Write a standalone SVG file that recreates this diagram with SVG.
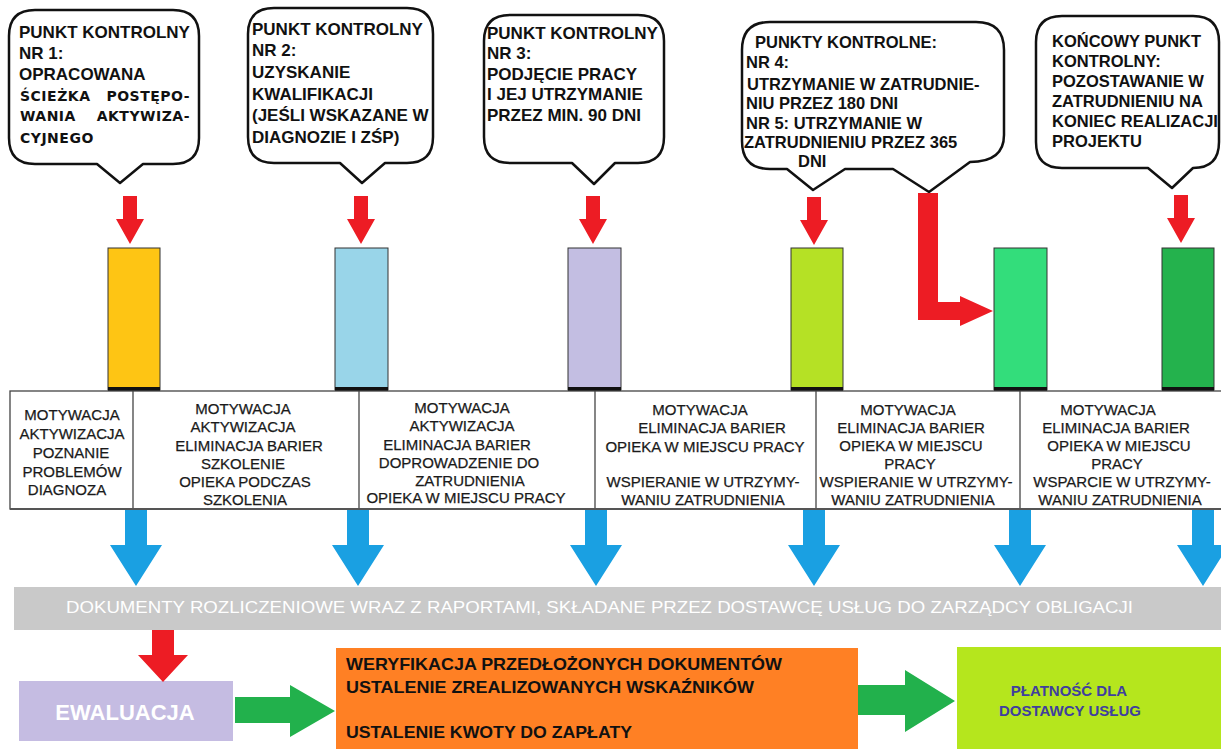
<svg xmlns="http://www.w3.org/2000/svg" width="1221" height="749" viewBox="0 0 1221 749">
<style>
.bub{fill:#fff;stroke:#111;stroke-width:2.5;stroke-linejoin:round}
.bt{font-family:"Liberation Sans",Arial,sans-serif;font-weight:bold;font-size:16.5px;fill:#111}
.bt2{font-size:17px}
.bw{font-family:"DejaVu Sans",Verdana,sans-serif;font-weight:bold;font-size:14px;letter-spacing:0.5px;fill:#111}
.red{fill:#ED1C24}
.blue{fill:#1AA0E2}
.grn{fill:#22B14C}
.bar{stroke:#333;stroke-width:1}
.ct{font-family:"Liberation Sans",Arial,sans-serif;font-size:15px;fill:#1a1a1a;text-anchor:middle;stroke:#1a1a1a;stroke-width:0.25}
.cell{fill:#fff;stroke:#444;stroke-width:1.3}
</style>
<rect width="1221" height="749" fill="#fff"/>

<g id="bubble1">
<path class="bub" d="M35,10 H173 Q199,10 199,36 V138 Q199,164 173,164 H143 L120,183 L97,164 H35 Q9,164 9,138 V36 Q9,10 35,10 Z"/>
<text class="bt bt2" x="19" y="38">PUNKT KONTROLNY</text>
<text class="bt bt2" x="19" y="59">NR 1:</text>
<text class="bt bt2" x="19" y="80">OPRACOWANA</text>
<text class="bw" x="20" y="101">ŚCIEŻKA</text>
<text class="bw" x="190" y="101" text-anchor="end">POSTĘPO-</text>
<text class="bw" x="20" y="121">WANIA</text>
<text class="bw" x="190" y="121" text-anchor="end">AKTYWIZA-</text>
<text class="bw" x="20" y="143">CYJNEGO</text>
</g>

<g id="bubble2">
<path class="bub" d="M274,8 H407 Q433,8 433,34 V137 Q433,163 407,163 H385 L362,183 L340,163 H274 Q248,163 248,137 V34 Q248,8 274,8 Z"/>
<text class="bt bt2" x="252" y="35">PUNKT KONTROLNY</text>
<text class="bt bt2" x="252" y="56">NR 2:</text>
<text class="bt bt2" x="252" y="78">UZYSKANIE</text>
<text class="bt bt2" x="252" y="100">KWALIFIKACJI</text>
<text class="bt bt2" x="252" y="121">(JEŚLI WSKAZANE W</text>
<text class="bt bt2" x="252" y="143">DIAGNOZIE I ZŚP)</text>
</g>

<g id="bubble3">
<path class="bub" d="M510,15 H638 Q664,15 664,41 V137 Q664,163 638,163 H615 L594,184 L572,163 H510 Q484,163 484,137 V41 Q484,15 510,15 Z"/>
<text class="bt bt2" x="487" y="39">PUNKT KONTROLNY</text>
<text class="bt bt2" x="487" y="59">NR 3:</text>
<text class="bt bt2" x="487" y="80">PODJĘCIE PRACY</text>
<text class="bt bt2" x="487" y="100">I JEJ UTRZYMANIE</text>
<text class="bt bt2" x="487" y="121">PRZEZ MIN. 90 DNI</text>
</g>

<g id="bubble4">
<path class="bub" d="M770,22 H976 Q1004,22 1004,50 V135 Q1004,162 970,162 L929,192 L893,169 H845 L813,190 L787,169 H770 Q742,169 742,141 V50 Q742,22 770,22 Z"/>
<text class="bt" x="755" y="48">PUNKTY KONTROLNE:</text>
<text class="bt" x="746" y="68">NR 4:</text>
<text class="bt" x="747" y="90">UTRZYMANIE W ZATRUDNIE-</text>
<text class="bt" x="746" y="109">NIU PRZEZ 180 DNI</text>
<text class="bt" x="746" y="129">NR 5: UTRZYMANIE W</text>
<text class="bt" x="744" y="148">ZATRUDNIENIU PRZEZ 365</text>
<text class="bt" x="798" y="167">DNI</text>
</g>

<g id="bubble5">
<path class="bub" d="M1062,16 H1193 Q1219,16 1219,42 V142 Q1219,168 1193,168 L1172,188 L1148,168 H1062 Q1036,168 1036,142 V42 Q1036,16 1062,16 Z"/>
<text class="bt" x="1052" y="47">KOŃCOWY PUNKT</text>
<text class="bt" x="1052" y="67">KONTROLNY:</text>
<text class="bt" x="1052" y="87">POZOSTAWANIE W</text>
<text class="bt" x="1052" y="107">ZATRUDNIENIU NA</text>
<text class="bt" x="1052" y="127">KONIEC REALIZACJI</text>
<text class="bt" x="1052" y="147">PROJEKTU</text>
</g>

<g id="bars">
<rect class="bar" x="108" y="248" width="52" height="142" fill="#FEC514"/>
<rect class="bar" x="335" y="248" width="53" height="142" fill="#99D5E9"/>
<rect class="bar" x="568" y="248" width="53" height="142" fill="#C3BEE2"/>
<rect class="bar" x="791" y="248" width="52" height="142" fill="#B5E125"/>
<rect class="bar" x="994" y="248" width="53" height="142" fill="#33DD7B"/>
<rect class="bar" x="1162" y="248" width="52" height="142" fill="#24B24D"/>
<g fill="#111">
<rect x="108" y="387" width="52" height="4"/>
<rect x="335" y="387" width="53" height="4"/>
<rect x="568" y="387" width="53" height="4"/>
<rect x="791" y="387" width="52" height="4"/>
<rect x="994" y="387" width="53" height="4"/>
<rect x="1162" y="387" width="52" height="4"/>
</g>
</g>

<g id="table">
<rect class="cell" x="10" y="391" width="1213" height="118"/>
<g stroke="#444" stroke-width="1.3">
<line x1="133" y1="391" x2="133" y2="509"/>
<line x1="359" y1="391" x2="359" y2="509"/>
<line x1="595" y1="391" x2="595" y2="509"/>
<line x1="816" y1="391" x2="816" y2="509"/>
<line x1="1020" y1="391" x2="1020" y2="509"/>
</g>
<line x1="10" y1="509" x2="1221" y2="509" stroke="#555" stroke-width="2"/>
</g>

<g id="cell1">
<text class="ct" x="72" y="420">MOTYWACJA</text>
<text class="ct" x="72" y="439">AKTYWIZACJA</text>
<text class="ct" x="71" y="458">POZNANIE</text>
<text class="ct" x="72" y="477">PROBLEMÓW</text>
<text class="ct" x="67" y="495">DIAGNOZA</text>
</g>
<g id="cell2">
<text class="ct" x="243" y="414">MOTYWACJA</text>
<text class="ct" x="243" y="432">AKTYWIZACJA</text>
<text class="ct" x="249" y="451">ELIMINACJA BARIER</text>
<text class="ct" x="243" y="469">SZKOLENIE</text>
<text class="ct" x="245" y="487">OPIEKA PODCZAS</text>
<text class="ct" x="245" y="505">SZKOLENIA</text>
</g>
<g id="cell3">
<text class="ct" x="462" y="413">MOTYWACJA</text>
<text class="ct" x="462" y="431">AKTYWIZACJA</text>
<text class="ct" x="457" y="450">ELIMINACJA BARIER</text>
<text class="ct" x="459" y="468">DOPROWADZENIE DO</text>
<text class="ct" x="470" y="486">ZATRUDNIENIA</text>
<text class="ct" x="466" y="503">OPIEKA W MIEJSCU PRACY</text>
</g>
<g id="cell4">
<text class="ct" x="700" y="415">MOTYWACJA</text>
<text class="ct" x="712" y="433">ELIMINACJA BARIER</text>
<text class="ct" x="705" y="452">OPIEKA W MIEJSCU PRACY</text>
<text class="ct" x="703" y="487">WSPIERANIE W UTRZYMY-</text>
<text class="ct" x="703" y="505">WANIU ZATRUDNIENIA</text>
</g>
<g id="cell5">
<text class="ct" x="908" y="415">MOTYWACJA</text>
<text class="ct" x="911" y="433">ELIMINACJA BARIER</text>
<text class="ct" x="911" y="451">OPIEKA W MIEJSCU</text>
<text class="ct" x="910" y="469">PRACY</text>
<text class="ct" x="916" y="487">WSPIERANIE W UTRZYMY-</text>
<text class="ct" x="913" y="505">WANIU ZATRUDNIENIA</text>
</g>
<g id="cell6">
<text class="ct" x="1108" y="415">MOTYWACJA</text>
<text class="ct" x="1116" y="433">ELIMINACJA BARIER</text>
<text class="ct" x="1119" y="451">OPIEKA W MIEJSCU</text>
<text class="ct" x="1117" y="469">PRACY</text>
<text class="ct" x="1122" y="487">WSPARCIE W UTRZYMY-</text>
<text class="ct" x="1120" y="505">WANIU ZATRUDNIENIA</text>
</g>

<g id="band">
<rect x="14" y="587" width="1207" height="43" fill="#C9C9C9"/>
<text x="66" y="613" font-family="Liberation Sans, Arial, sans-serif" font-size="17" fill="#fff" textLength="1067" lengthAdjust="spacingAndGlyphs">DOKUMENTY ROZLICZENIOWE WRAZ Z RAPORTAMI, SKŁADANE PRZEZ DOSTAWCĘ USŁUG DO ZARZĄDCY OBLIGACJI</text>
</g>

<g id="ewaluacja">
<rect x="19" y="681" width="214" height="60" fill="#C5BCE2"/>
<text x="125" y="720" font-family="Liberation Sans, Arial, sans-serif" font-weight="bold" font-size="22" fill="#fff" text-anchor="middle">EWALUACJA</text>
</g>

<g id="weryfikacja">
<rect x="336" y="648" width="522" height="101" fill="#FF8024"/>
<g font-family="Liberation Sans, Arial, sans-serif" font-weight="bold" font-size="16.5" fill="#111">
<text x="346" y="670" textLength="436" lengthAdjust="spacingAndGlyphs">WERYFIKACJA PRZEDŁOŻONYCH DOKUMENTÓW</text>
<text x="346" y="693" textLength="408" lengthAdjust="spacingAndGlyphs">USTALENIE ZREALIZOWANYCH WSKAŹNIKÓW</text>
<text x="346" y="738" textLength="286" lengthAdjust="spacingAndGlyphs">USTALENIE KWOTY DO ZAPŁATY</text>
</g>
</g>

<g id="platnosc">
<rect x="957" y="647" width="264" height="102" fill="#B5E61D"/>
<g font-family="Liberation Sans, Arial, sans-serif" font-weight="bold" font-size="15" fill="#3F3F9E" text-anchor="middle">
<text x="1069" y="696">PŁATNOŚĆ DLA</text>
<text x="1070" y="716">DOSTAWCY USŁUG</text>
</g>
</g>

<g id="connectors">
<polygon class="red" points="123,196 137,196 137,219 144,219 130,244 116,219 123,219"/>
<polygon class="red" points="354,196 368,196 368,219 375,219 361,244 347,219 354,219"/>
<polygon class="red" points="586,196 600,196 600,219 607,219 593,244 579,219 586,219"/>
<polygon class="red" points="807,197 821,197 821,220 828,220 814,245 800,220 807,220"/>
<polygon class="red" points="1174,195 1188,195 1188,218 1195,218 1181,243 1167,218 1174,218"/>
<polygon class="red" points="918,193 938,193 938,302 960,302 960,296 993,311 960,326 960,320 918,320"/>
<polygon class="red" points="152,630 174,630 174,655 188,655 163,682 138,655 152,655"/>
<polygon class="blue" points="125,510 147,510 147,545 162,545 136,586 110,545 125,545"/>
<polygon class="blue" points="347,510 369,510 369,545 384,545 358,586 332,545 347,545"/>
<polygon class="blue" points="585,510 607,510 607,545 622,545 596,586 570,545 585,545"/>
<polygon class="blue" points="803,510 825,510 825,545 840,545 814,586 788,545 803,545"/>
<polygon class="blue" points="1009,510 1031,510 1031,545 1046,545 1020,586 994,545 1009,545"/>
<polygon class="blue" points="1192,510 1214,510 1214,545 1229,545 1203,586 1177,545 1192,545"/>
<polygon class="grn" points="235,697 290,697 290,685 335,711 290,737 290,723 235,723"/>
<polygon class="grn" points="858,685 905,685 905,670 955,701 905,732 905,715 858,715"/>
</g>
</svg>
